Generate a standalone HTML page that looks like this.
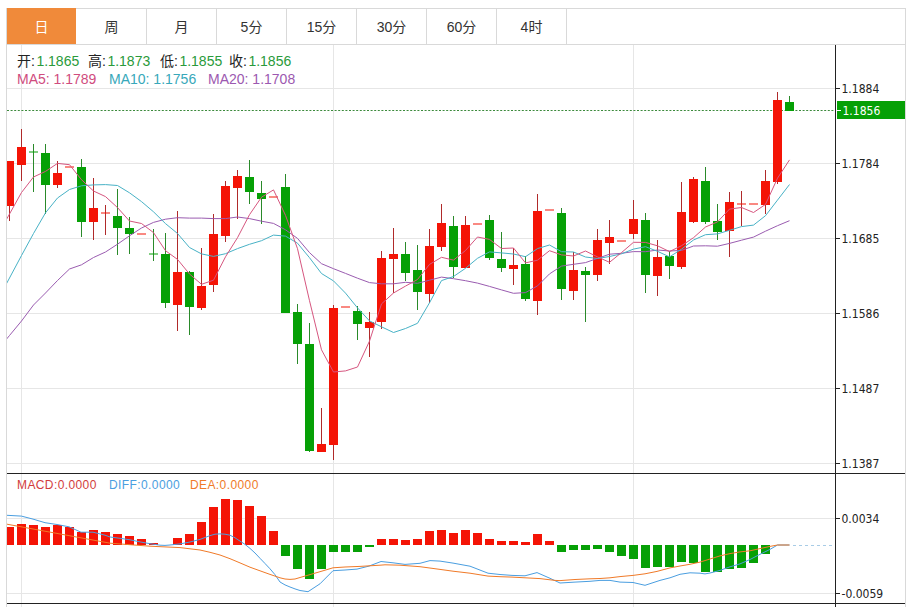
<!DOCTYPE html>
<html><head><meta charset="utf-8"><style>
*{margin:0;padding:0;box-sizing:border-box}
html,body{width:914px;height:607px;overflow:hidden;background:#fff}
body{position:relative;font-family:"Liberation Sans","Noto Sans CJK SC",sans-serif}
.frame{position:absolute;left:6px;top:8px;width:900px;height:599px;border-left:1px solid #d9d9d9;border-right:1px solid #d9d9d9;border-top:1px solid #d9d9d9}
.tabbar{position:absolute;left:7px;top:44px;width:898px;height:1px;background:#d9d9d9}
.tab{position:absolute;top:8px;width:70px;height:36px;border-right:1px solid #d9d9d9;text-align:center;line-height:36px;padding-top:1px;font-size:14px;color:#333}
.tab.on{background:#f08a3a;color:#fff;border-right:none;width:69px}
.lg{position:absolute;font-size:14px;white-space:pre;line-height:18px}
.ax{position:absolute;font-size:12px;line-height:16px;color:#222;font-family:"DejaVu Sans","Liberation Sans",sans-serif;font-stretch:condensed}
.ml{position:absolute;top:477px;font-size:12px;line-height:16px;white-space:pre;letter-spacing:0.4px}
svg{position:absolute;left:0;top:0}
</style></head><body>
<div class="frame"></div>
<div class="tabbar"></div>
<div class="tab on" style="left:7px">日</div><div class="tab" style="left:77px">周</div><div class="tab" style="left:147px">月</div><div class="tab" style="left:217px">5分</div><div class="tab" style="left:287px">15分</div><div class="tab" style="left:357px">30分</div><div class="tab" style="left:427px">60分</div><div class="tab" style="left:497px">4时</div>
<svg width="914" height="607" viewBox="0 0 914 607"><defs><clipPath id="cp"><rect shape-rendering="crispEdges" x="7" y="45" width="828" height="558"/></clipPath></defs>
<rect shape-rendering="crispEdges" x="7" y="88" width="828" height="1" fill="#e6e6e6"/><rect shape-rendering="crispEdges" x="7" y="163" width="828" height="1" fill="#e6e6e6"/><rect shape-rendering="crispEdges" x="7" y="238" width="828" height="1" fill="#e6e6e6"/><rect shape-rendering="crispEdges" x="7" y="313" width="828" height="1" fill="#e6e6e6"/><rect shape-rendering="crispEdges" x="7" y="388" width="828" height="1" fill="#e6e6e6"/><rect shape-rendering="crispEdges" x="7" y="463" width="828" height="1" fill="#e6e6e6"/><rect shape-rendering="crispEdges" x="7" y="518" width="828" height="1" fill="#e6e6e6"/><rect shape-rendering="crispEdges" x="7" y="593" width="828" height="1" fill="#e6e6e6"/><rect shape-rendering="crispEdges" x="21" y="45" width="1" height="562" fill="#e6e6e6"/><rect shape-rendering="crispEdges" x="333" y="45" width="1" height="562" fill="#e6e6e6"/><rect shape-rendering="crispEdges" x="633" y="45" width="1" height="562" fill="#e6e6e6"/><line x1="7" y1="110.5" x2="835" y2="110.5" stroke="#3c8a3c" stroke-width="1" stroke-dasharray="2,1.6"/><g clip-path="url(#cp)"><rect shape-rendering="crispEdges" x="9" y="161.0" width="1" height="60.0" fill="#b02a2a"/><rect shape-rendering="crispEdges" x="5" y="161.0" width="9" height="45.0" fill="#f41406"/><rect shape-rendering="crispEdges" x="21" y="129.0" width="1" height="51.5" fill="#b02a2a"/><rect shape-rendering="crispEdges" x="17" y="147.0" width="9" height="17.5" fill="#f41406"/><rect shape-rendering="crispEdges" x="33" y="144.0" width="1" height="47.5" fill="#2a8a2a"/><rect x="29" y="151.5" width="9" height="1" fill="#06a006"/><rect shape-rendering="crispEdges" x="45" y="144.0" width="1" height="70.0" fill="#2a8a2a"/><rect shape-rendering="crispEdges" x="41" y="152.6" width="9" height="32.0" fill="#06a006"/><rect shape-rendering="crispEdges" x="57" y="161.0" width="1" height="27.2" fill="#b02a2a"/><rect shape-rendering="crispEdges" x="53" y="173.0" width="9" height="12.2" fill="#f41406"/><rect x="65" y="166.5" width="9" height="1" fill="#f41406"/><rect shape-rendering="crispEdges" x="81" y="159.0" width="1" height="77.6" fill="#2a8a2a"/><rect shape-rendering="crispEdges" x="77" y="167.0" width="9" height="54.8" fill="#06a006"/><rect shape-rendering="crispEdges" x="93" y="177.6" width="1" height="62.0" fill="#b02a2a"/><rect shape-rendering="crispEdges" x="89" y="208.2" width="9" height="13.6" fill="#f41406"/><rect shape-rendering="crispEdges" x="105" y="205.2" width="1" height="29.6" fill="#b02a2a"/><rect x="101" y="212.5" width="9" height="1" fill="#f41406"/><rect shape-rendering="crispEdges" x="117" y="189.4" width="1" height="65.6" fill="#2a8a2a"/><rect shape-rendering="crispEdges" x="113" y="215.8" width="9" height="12.1" fill="#06a006"/><rect shape-rendering="crispEdges" x="129" y="216.8" width="1" height="37.2" fill="#2a8a2a"/><rect shape-rendering="crispEdges" x="125" y="227.7" width="9" height="6.5" fill="#06a006"/><rect x="137" y="233.5" width="9" height="1" fill="#f41406"/><rect shape-rendering="crispEdges" x="153" y="228.7" width="1" height="32.6" fill="#2a8a2a"/><rect x="149" y="253.5" width="9" height="1" fill="#06a006"/><rect shape-rendering="crispEdges" x="165" y="232.8" width="1" height="75.1" fill="#2a8a2a"/><rect shape-rendering="crispEdges" x="161" y="254.4" width="9" height="48.4" fill="#06a006"/><rect shape-rendering="crispEdges" x="177" y="210.9" width="1" height="119.6" fill="#b02a2a"/><rect shape-rendering="crispEdges" x="173" y="271.7" width="9" height="32.9" fill="#f41406"/><rect shape-rendering="crispEdges" x="189" y="270.8" width="1" height="63.9" fill="#2a8a2a"/><rect shape-rendering="crispEdges" x="185" y="272.2" width="9" height="34.8" fill="#06a006"/><rect shape-rendering="crispEdges" x="201" y="248.1" width="1" height="61.6" fill="#b02a2a"/><rect shape-rendering="crispEdges" x="197" y="285.8" width="9" height="21.7" fill="#f41406"/><rect shape-rendering="crispEdges" x="213" y="213.8" width="1" height="77.8" fill="#b02a2a"/><rect shape-rendering="crispEdges" x="209" y="233.6" width="9" height="51.3" fill="#f41406"/><rect shape-rendering="crispEdges" x="225" y="181.2" width="1" height="61.2" fill="#b02a2a"/><rect shape-rendering="crispEdges" x="221" y="185.9" width="9" height="50.1" fill="#f41406"/><rect shape-rendering="crispEdges" x="237" y="169.9" width="1" height="48.6" fill="#b02a2a"/><rect shape-rendering="crispEdges" x="233" y="176.3" width="9" height="11.4" fill="#f41406"/><rect shape-rendering="crispEdges" x="249" y="160.0" width="1" height="43.8" fill="#2a8a2a"/><rect shape-rendering="crispEdges" x="245" y="176.8" width="9" height="14.9" fill="#06a006"/><rect shape-rendering="crispEdges" x="261" y="181.2" width="1" height="43.1" fill="#2a8a2a"/><rect shape-rendering="crispEdges" x="257" y="192.9" width="9" height="5.7" fill="#06a006"/><rect x="269" y="196.5" width="9" height="1" fill="#f41406"/><rect shape-rendering="crispEdges" x="285" y="173.6" width="1" height="139.2" fill="#2a8a2a"/><rect shape-rendering="crispEdges" x="281" y="187.1" width="9" height="125.7" fill="#06a006"/><rect shape-rendering="crispEdges" x="297" y="303.8" width="1" height="59.8" fill="#2a8a2a"/><rect shape-rendering="crispEdges" x="293" y="312.1" width="9" height="31.4" fill="#06a006"/><rect shape-rendering="crispEdges" x="309" y="323.3" width="1" height="128.2" fill="#2a8a2a"/><rect shape-rendering="crispEdges" x="305" y="343.9" width="9" height="107.4" fill="#06a006"/><rect shape-rendering="crispEdges" x="321" y="408.1" width="1" height="43.7" fill="#b02a2a"/><rect shape-rendering="crispEdges" x="317" y="444.3" width="9" height="7.5" fill="#f41406"/><rect shape-rendering="crispEdges" x="333" y="305.2" width="1" height="154.7" fill="#b02a2a"/><rect shape-rendering="crispEdges" x="329" y="307.9" width="9" height="136.6" fill="#f41406"/><rect x="341" y="306.5" width="9" height="1" fill="#f41406"/><rect shape-rendering="crispEdges" x="357" y="305.8" width="1" height="34.4" fill="#2a8a2a"/><rect shape-rendering="crispEdges" x="353" y="311.4" width="9" height="12.9" fill="#06a006"/><rect shape-rendering="crispEdges" x="369" y="312.0" width="1" height="45.0" fill="#b02a2a"/><rect shape-rendering="crispEdges" x="365" y="321.6" width="9" height="5.9" fill="#f41406"/><rect shape-rendering="crispEdges" x="381" y="250.7" width="1" height="78.3" fill="#b02a2a"/><rect shape-rendering="crispEdges" x="377" y="258.1" width="9" height="64.0" fill="#f41406"/><rect shape-rendering="crispEdges" x="393" y="227.6" width="1" height="65.7" fill="#b02a2a"/><rect shape-rendering="crispEdges" x="389" y="253.7" width="9" height="5.1" fill="#f41406"/><rect shape-rendering="crispEdges" x="405" y="242.2" width="1" height="38.4" fill="#2a8a2a"/><rect shape-rendering="crispEdges" x="401" y="253.7" width="9" height="18.9" fill="#06a006"/><rect shape-rendering="crispEdges" x="417" y="245.4" width="1" height="64.7" fill="#2a8a2a"/><rect shape-rendering="crispEdges" x="413" y="269.8" width="9" height="21.9" fill="#06a006"/><rect shape-rendering="crispEdges" x="429" y="228.8" width="1" height="74.4" fill="#b02a2a"/><rect shape-rendering="crispEdges" x="425" y="246.1" width="9" height="47.7" fill="#f41406"/><rect shape-rendering="crispEdges" x="441" y="203.5" width="1" height="47.2" fill="#b02a2a"/><rect shape-rendering="crispEdges" x="437" y="222.6" width="9" height="24.7" fill="#f41406"/><rect shape-rendering="crispEdges" x="453" y="215.7" width="1" height="62.1" fill="#2a8a2a"/><rect shape-rendering="crispEdges" x="449" y="226.0" width="9" height="41.3" fill="#06a006"/><rect shape-rendering="crispEdges" x="465" y="215.7" width="1" height="51.8" fill="#b02a2a"/><rect shape-rendering="crispEdges" x="461" y="224.9" width="9" height="42.6" fill="#f41406"/><rect x="473" y="223.5" width="9" height="1" fill="#f41406"/><rect shape-rendering="crispEdges" x="489" y="215.3" width="1" height="44.9" fill="#2a8a2a"/><rect shape-rendering="crispEdges" x="485" y="220.0" width="9" height="37.7" fill="#06a006"/><rect shape-rendering="crispEdges" x="501" y="232.2" width="1" height="40.2" fill="#2a8a2a"/><rect shape-rendering="crispEdges" x="497" y="258.5" width="9" height="9.7" fill="#06a006"/><rect shape-rendering="crispEdges" x="513" y="247.8" width="1" height="37.5" fill="#b02a2a"/><rect shape-rendering="crispEdges" x="509" y="265.0" width="9" height="4.2" fill="#f41406"/><rect shape-rendering="crispEdges" x="525" y="256.0" width="1" height="45.3" fill="#2a8a2a"/><rect shape-rendering="crispEdges" x="521" y="263.9" width="9" height="35.3" fill="#06a006"/><rect shape-rendering="crispEdges" x="537" y="194.0" width="1" height="121.3" fill="#b02a2a"/><rect shape-rendering="crispEdges" x="533" y="210.7" width="9" height="90.4" fill="#f41406"/><rect x="545" y="209.5" width="9" height="1" fill="#f41406"/><rect shape-rendering="crispEdges" x="561" y="207.8" width="1" height="92.6" fill="#2a8a2a"/><rect shape-rendering="crispEdges" x="557" y="212.6" width="9" height="76.6" fill="#06a006"/><rect shape-rendering="crispEdges" x="573" y="252.4" width="1" height="48.0" fill="#b02a2a"/><rect shape-rendering="crispEdges" x="569" y="270.4" width="9" height="20.5" fill="#f41406"/><rect shape-rendering="crispEdges" x="585" y="266.7" width="1" height="55.7" fill="#2a8a2a"/><rect shape-rendering="crispEdges" x="581" y="270.5" width="9" height="4.0" fill="#06a006"/><rect shape-rendering="crispEdges" x="597" y="228.8" width="1" height="51.9" fill="#b02a2a"/><rect shape-rendering="crispEdges" x="593" y="240.0" width="9" height="34.7" fill="#f41406"/><rect shape-rendering="crispEdges" x="609" y="220.3" width="1" height="43.7" fill="#b02a2a"/><rect shape-rendering="crispEdges" x="605" y="237.2" width="9" height="5.5" fill="#f41406"/><rect x="617" y="240.5" width="9" height="1" fill="#f41406"/><rect shape-rendering="crispEdges" x="633" y="199.6" width="1" height="39.2" fill="#b02a2a"/><rect shape-rendering="crispEdges" x="629" y="218.8" width="9" height="14.9" fill="#f41406"/><rect shape-rendering="crispEdges" x="645" y="213.0" width="1" height="80.2" fill="#2a8a2a"/><rect shape-rendering="crispEdges" x="641" y="219.9" width="9" height="55.3" fill="#06a006"/><rect shape-rendering="crispEdges" x="657" y="240.2" width="1" height="55.8" fill="#b02a2a"/><rect shape-rendering="crispEdges" x="653" y="256.8" width="9" height="18.9" fill="#f41406"/><rect shape-rendering="crispEdges" x="669" y="251.0" width="1" height="28.4" fill="#2a8a2a"/><rect shape-rendering="crispEdges" x="665" y="256.3" width="9" height="9.7" fill="#06a006"/><rect shape-rendering="crispEdges" x="681" y="181.9" width="1" height="87.5" fill="#b02a2a"/><rect shape-rendering="crispEdges" x="677" y="211.8" width="9" height="54.7" fill="#f41406"/><rect shape-rendering="crispEdges" x="693" y="177.3" width="1" height="46.1" fill="#b02a2a"/><rect shape-rendering="crispEdges" x="689" y="178.9" width="9" height="42.8" fill="#f41406"/><rect shape-rendering="crispEdges" x="705" y="166.7" width="1" height="56.9" fill="#2a8a2a"/><rect shape-rendering="crispEdges" x="701" y="180.5" width="9" height="41.0" fill="#06a006"/><rect shape-rendering="crispEdges" x="717" y="204.4" width="1" height="35.6" fill="#2a8a2a"/><rect shape-rendering="crispEdges" x="713" y="221.2" width="9" height="10.3" fill="#06a006"/><rect shape-rendering="crispEdges" x="729" y="192.1" width="1" height="65.3" fill="#b02a2a"/><rect shape-rendering="crispEdges" x="725" y="201.8" width="9" height="29.3" fill="#f41406"/><rect shape-rendering="crispEdges" x="741" y="191.1" width="1" height="35.0" fill="#b02a2a"/><rect x="737" y="203.5" width="9" height="1" fill="#f41406"/><rect x="749" y="203.5" width="9" height="1" fill="#f41406"/><rect shape-rendering="crispEdges" x="765" y="170.4" width="1" height="43.9" fill="#b02a2a"/><rect shape-rendering="crispEdges" x="761" y="181.0" width="9" height="24.0" fill="#f41406"/><rect shape-rendering="crispEdges" x="777" y="92.3" width="1" height="91.3" fill="#b02a2a"/><rect shape-rendering="crispEdges" x="773" y="100.4" width="9" height="81.3" fill="#f41406"/><rect shape-rendering="crispEdges" x="789" y="95.8" width="1" height="14.8" fill="#2a8a2a"/><rect shape-rendering="crispEdges" x="785" y="101.7" width="9" height="8.9" fill="#06a006"/><polyline points="-2.5,350.0 9.5,335.5 21.5,321.0 33.5,305.0 45.5,293.0 57.5,280.5 69.5,269.0 81.5,264.8 93.5,257.5 105.5,252.0 117.5,244.2 129.5,235.8 141.5,228.0 153.5,222.4 165.5,219.2 177.5,217.7 189.5,218.1 201.5,218.1 213.5,218.6 225.5,218.6 237.5,217.0 249.5,218.6 261.5,221.2 273.5,223.4 285.5,229.8 297.5,238.4 309.5,252.6 321.5,263.7 333.5,268.7 345.5,273.4 357.5,278.2 369.5,282.6 381.5,283.8 393.5,283.8 405.5,282.3 417.5,283.3 429.5,280.2 441.5,277.1 453.5,278.7 465.5,280.7 477.5,283.1 489.5,286.4 501.5,289.9 513.5,293.3 525.5,292.6 537.5,285.9 549.5,273.9 561.5,266.1 573.5,264.3 585.5,262.6 597.5,258.4 609.5,254.2 621.5,253.3 633.5,251.6 645.5,251.7 657.5,250.0 669.5,251.0 681.5,250.4 693.5,246.0 705.5,245.8 717.5,246.2 729.5,243.4 741.5,240.2 753.5,237.1 765.5,231.2 777.5,225.7 789.5,220.7" fill="none" stroke="#9a5cb0" stroke-width="1" stroke-linejoin="round"/><polyline points="-2.5,300.5 9.5,278.0 21.5,255.5 33.5,233.5 45.5,212.8 57.5,198.0 69.5,189.5 81.5,185.8 93.5,184.9 105.5,184.6 117.5,185.5 129.5,192.8 141.5,201.6 153.5,211.8 165.5,223.6 177.5,233.5 189.5,247.5 201.5,253.9 213.5,256.4 225.5,253.7 237.5,248.6 249.5,244.3 261.5,240.7 273.5,235.1 285.5,236.1 297.5,243.2 309.5,257.7 321.5,273.5 333.5,280.9 345.5,293.1 357.5,307.9 369.5,320.9 381.5,326.8 393.5,332.5 405.5,328.5 417.5,323.3 429.5,302.8 441.5,280.6 453.5,276.5 465.5,268.3 477.5,258.3 489.5,251.9 501.5,252.9 513.5,254.0 525.5,256.7 537.5,248.6 549.5,245.0 561.5,251.7 573.5,252.0 585.5,257.0 597.5,258.5 609.5,256.5 621.5,253.8 633.5,249.1 645.5,246.7 657.5,251.3 669.5,256.9 681.5,249.2 693.5,240.0 705.5,234.7 717.5,233.9 729.5,230.3 741.5,226.6 753.5,225.1 765.5,215.7 777.5,200.1 789.5,184.5" fill="none" stroke="#48b2c6" stroke-width="1" stroke-linejoin="round"/><polyline points="-2.5,235.5 9.5,214.0 21.5,192.5 33.5,177.0 45.5,171.4 57.5,163.4 69.5,164.7 81.5,179.7 93.5,191.0 105.5,196.6 117.5,207.6 129.5,221.0 141.5,223.5 153.5,232.6 165.5,250.7 177.5,259.4 189.5,274.0 201.5,284.3 213.5,280.2 225.5,256.8 237.5,237.7 249.5,214.7 261.5,197.2 273.5,189.9 285.5,215.3 297.5,248.7 309.5,300.7 321.5,349.8 333.5,372.0 345.5,370.9 357.5,367.0 369.5,341.1 381.5,303.9 393.5,293.0 405.5,286.1 417.5,279.5 429.5,264.4 441.5,257.3 453.5,260.1 465.5,250.5 477.5,237.0 489.5,239.4 501.5,248.5 513.5,248.0 525.5,262.9 537.5,260.2 549.5,250.7 561.5,254.9 573.5,256.0 585.5,251.0 597.5,256.9 609.5,262.3 621.5,252.6 633.5,242.3 645.5,242.4 657.5,245.8 669.5,251.6 681.5,245.7 693.5,237.7 705.5,227.0 717.5,221.9 729.5,209.1 741.5,207.5 753.5,212.5 765.5,204.4 777.5,178.2 789.5,159.9" fill="none" stroke="#d6567f" stroke-width="1" stroke-linejoin="round"/><rect shape-rendering="crispEdges" x="5" y="527.1" width="9" height="17.9" fill="#f41406"/><rect shape-rendering="crispEdges" x="17" y="524.2" width="9" height="20.8" fill="#f41406"/><rect shape-rendering="crispEdges" x="29" y="525.0" width="9" height="20.0" fill="#f41406"/><rect shape-rendering="crispEdges" x="41" y="527.1" width="9" height="17.9" fill="#f41406"/><rect shape-rendering="crispEdges" x="53" y="525.0" width="9" height="20.0" fill="#f41406"/><rect shape-rendering="crispEdges" x="65" y="526.8" width="9" height="18.2" fill="#f41406"/><rect shape-rendering="crispEdges" x="77" y="532.2" width="9" height="12.8" fill="#f41406"/><rect shape-rendering="crispEdges" x="89" y="530.2" width="9" height="14.8" fill="#f41406"/><rect shape-rendering="crispEdges" x="101" y="531.8" width="9" height="13.2" fill="#f41406"/><rect shape-rendering="crispEdges" x="113" y="534.3" width="9" height="10.7" fill="#f41406"/><rect shape-rendering="crispEdges" x="125" y="536.1" width="9" height="8.9" fill="#f41406"/><rect shape-rendering="crispEdges" x="137" y="538.5" width="9" height="6.5" fill="#f41406"/><rect shape-rendering="crispEdges" x="149" y="542.7" width="9" height="2.3" fill="#f41406"/><rect shape-rendering="crispEdges" x="173" y="538.1" width="9" height="6.9" fill="#f41406"/><rect shape-rendering="crispEdges" x="185" y="534.2" width="9" height="10.8" fill="#f41406"/><rect shape-rendering="crispEdges" x="197" y="521.8" width="9" height="23.2" fill="#f41406"/><rect shape-rendering="crispEdges" x="209" y="507.2" width="9" height="37.8" fill="#f41406"/><rect shape-rendering="crispEdges" x="221" y="498.9" width="9" height="46.1" fill="#f41406"/><rect shape-rendering="crispEdges" x="233" y="499.8" width="9" height="45.2" fill="#f41406"/><rect shape-rendering="crispEdges" x="245" y="505.7" width="9" height="39.3" fill="#f41406"/><rect shape-rendering="crispEdges" x="257" y="515.6" width="9" height="29.4" fill="#f41406"/><rect shape-rendering="crispEdges" x="269" y="531.1" width="9" height="13.9" fill="#f41406"/><rect shape-rendering="crispEdges" x="281" y="545" width="9" height="10.7" fill="#06a006"/><rect shape-rendering="crispEdges" x="293" y="545" width="9" height="23.5" fill="#06a006"/><rect shape-rendering="crispEdges" x="305" y="545" width="9" height="34.1" fill="#06a006"/><rect shape-rendering="crispEdges" x="317" y="545" width="9" height="24.1" fill="#06a006"/><rect shape-rendering="crispEdges" x="329" y="545" width="9" height="6.7" fill="#06a006"/><rect shape-rendering="crispEdges" x="341" y="545" width="9" height="6.9" fill="#06a006"/><rect shape-rendering="crispEdges" x="353" y="545" width="9" height="6.9" fill="#06a006"/><rect shape-rendering="crispEdges" x="365" y="545" width="9" height="1.7" fill="#06a006"/><rect shape-rendering="crispEdges" x="377" y="538.7" width="9" height="6.3" fill="#f41406"/><rect shape-rendering="crispEdges" x="389" y="539.2" width="9" height="5.8" fill="#f41406"/><rect shape-rendering="crispEdges" x="401" y="540.4" width="9" height="4.6" fill="#f41406"/><rect shape-rendering="crispEdges" x="413" y="538.5" width="9" height="6.5" fill="#f41406"/><rect shape-rendering="crispEdges" x="425" y="531.1" width="9" height="13.9" fill="#f41406"/><rect shape-rendering="crispEdges" x="437" y="530.0" width="9" height="15.0" fill="#f41406"/><rect shape-rendering="crispEdges" x="449" y="533.2" width="9" height="11.8" fill="#f41406"/><rect shape-rendering="crispEdges" x="461" y="529.5" width="9" height="15.5" fill="#f41406"/><rect shape-rendering="crispEdges" x="473" y="533.1" width="9" height="11.9" fill="#f41406"/><rect shape-rendering="crispEdges" x="485" y="538.9" width="9" height="6.1" fill="#f41406"/><rect shape-rendering="crispEdges" x="497" y="541.0" width="9" height="4.0" fill="#f41406"/><rect shape-rendering="crispEdges" x="509" y="541.1" width="9" height="3.9" fill="#f41406"/><rect shape-rendering="crispEdges" x="521" y="541.7" width="9" height="3.3" fill="#f41406"/><rect shape-rendering="crispEdges" x="533" y="534.1" width="9" height="10.9" fill="#f41406"/><rect shape-rendering="crispEdges" x="545" y="541.1" width="9" height="3.9" fill="#f41406"/><rect shape-rendering="crispEdges" x="557" y="545" width="9" height="6.7" fill="#06a006"/><rect shape-rendering="crispEdges" x="569" y="545" width="9" height="5.1" fill="#06a006"/><rect shape-rendering="crispEdges" x="581" y="545" width="9" height="5.1" fill="#06a006"/><rect shape-rendering="crispEdges" x="593" y="545" width="9" height="3.6" fill="#06a006"/><rect shape-rendering="crispEdges" x="605" y="545" width="9" height="6.7" fill="#06a006"/><rect shape-rendering="crispEdges" x="617" y="545" width="9" height="10.6" fill="#06a006"/><rect shape-rendering="crispEdges" x="629" y="545" width="9" height="14.3" fill="#06a006"/><rect shape-rendering="crispEdges" x="641" y="545" width="9" height="22.8" fill="#06a006"/><rect shape-rendering="crispEdges" x="653" y="545" width="9" height="21.8" fill="#06a006"/><rect shape-rendering="crispEdges" x="665" y="545" width="9" height="21.6" fill="#06a006"/><rect shape-rendering="crispEdges" x="677" y="545" width="9" height="16.6" fill="#06a006"/><rect shape-rendering="crispEdges" x="689" y="545" width="9" height="18.4" fill="#06a006"/><rect shape-rendering="crispEdges" x="701" y="545" width="9" height="26.7" fill="#06a006"/><rect shape-rendering="crispEdges" x="713" y="545" width="9" height="27.2" fill="#06a006"/><rect shape-rendering="crispEdges" x="725" y="545" width="9" height="23.6" fill="#06a006"/><rect shape-rendering="crispEdges" x="737" y="545" width="9" height="22.8" fill="#06a006"/><rect shape-rendering="crispEdges" x="749" y="545" width="9" height="18.0" fill="#06a006"/><rect shape-rendering="crispEdges" x="761" y="545" width="9" height="8.7" fill="#06a006"/><polyline points="-3.0,515.0 7.0,515.3 21.4,516.1 33.0,519.1 45.0,522.7 57.0,524.5 69.0,526.8 81.0,532.2 93.0,532.2 105.0,535.2 110.0,537.0 120.0,538.3 130.0,539.8 140.0,541.9 150.0,543.7 160.0,545.2 165.0,545.4 170.0,545.0 180.0,543.9 190.0,542.0 200.0,539.4 210.0,535.6 215.0,534.2 220.0,533.9 225.0,534.2 230.0,535.2 235.0,537.8 240.0,541.1 245.0,544.4 250.0,548.4 255.0,553.0 260.0,558.3 265.0,563.5 270.0,568.8 275.0,574.7 280.0,582.0 285.0,584.9 290.0,587.0 295.0,588.9 300.0,590.5 308.0,591.7 320.0,583.8 333.0,570.7 345.0,570.0 357.0,569.1 369.0,566.1 381.0,561.5 393.0,562.8 405.0,564.4 420.0,563.3 430.0,560.6 440.0,561.1 453.0,563.1 465.0,565.3 470.0,566.2 488.0,573.2 500.0,574.5 512.0,575.4 525.0,575.8 537.0,572.6 550.0,578.3 560.0,583.0 575.0,582.1 590.0,581.3 600.0,580.4 610.0,580.4 620.0,582.1 633.0,582.5 645.0,585.3 660.0,580.4 670.0,577.8 680.0,574.3 690.0,572.8 700.0,573.2 705.0,573.9 710.0,573.0 720.0,570.4 730.0,566.8 740.0,563.9 750.0,559.5 760.0,554.3 770.0,549.4 777.5,545.0 789.5,545.0" fill="none" stroke="#4a9ee0" stroke-width="1" stroke-linejoin="round"/><polyline points="-3.0,522.3 7.0,524.2 110.0,543.2 130.0,544.7 150.0,546.2 165.0,546.9 180.0,547.6 190.0,548.8 200.0,550.0 210.0,552.3 220.0,555.0 230.0,558.7 240.0,562.9 250.0,567.2 260.0,570.8 270.0,574.4 280.0,577.8 285.0,579.0 290.0,579.4 295.0,579.0 300.0,577.5 310.0,574.6 320.0,571.7 333.0,567.8 345.0,567.0 360.0,566.4 380.0,565.2 385.0,564.8 400.0,565.2 420.0,566.7 440.0,569.4 453.0,571.2 470.0,573.2 488.0,576.1 500.0,576.7 512.0,577.1 525.0,577.8 540.0,578.6 555.0,580.4 560.0,580.6 575.0,579.5 590.0,578.8 600.0,578.5 610.0,577.8 620.0,576.6 633.0,575.4 645.0,573.8 657.0,571.4 670.0,567.9 680.0,566.0 690.0,564.3 700.0,562.1 710.0,559.0 720.0,555.9 730.0,553.6 740.0,551.9 750.0,550.8 760.0,548.6 770.0,546.4 777.5,545.0 789.5,545.0" fill="none" stroke="#f07a28" stroke-width="1" stroke-linejoin="round"/></g><line x1="793" y1="545.5" x2="835" y2="545.5" stroke="#a8cce6" stroke-width="1" stroke-dasharray="3,3"/><rect shape-rendering="crispEdges" x="835" y="45" width="1" height="562" fill="#222"/><rect shape-rendering="crispEdges" x="7" y="473" width="898" height="1" fill="#222"/><rect shape-rendering="crispEdges" x="7" y="603" width="898" height="1" fill="#222"/><rect shape-rendering="crispEdges" x="836" y="88" width="4" height="1" fill="#222"/><rect shape-rendering="crispEdges" x="836" y="163" width="4" height="1" fill="#222"/><rect shape-rendering="crispEdges" x="836" y="238" width="4" height="1" fill="#222"/><rect shape-rendering="crispEdges" x="836" y="313" width="4" height="1" fill="#222"/><rect shape-rendering="crispEdges" x="836" y="388" width="4" height="1" fill="#222"/><rect shape-rendering="crispEdges" x="836" y="463" width="4" height="1" fill="#222"/><rect shape-rendering="crispEdges" x="836" y="518" width="4" height="1" fill="#222"/><rect shape-rendering="crispEdges" x="836" y="593" width="4" height="1" fill="#222"/><rect shape-rendering="crispEdges" x="837" y="101" width="68" height="18" fill="#06a006"/><rect shape-rendering="crispEdges" x="837" y="110" width="4" height="1" fill="#fff"/>
</svg>
<div class="lg" style="top:52px;left:17px"><span style="color:#222">开:</span><span style="color:#2a9a3a;margin-left:1.5px">1.1865</span></div>
<div class="lg" style="top:52px;left:88px"><span style="color:#222">高:</span><span style="color:#2a9a3a;margin-left:1.5px">1.1873</span></div>
<div class="lg" style="top:52px;left:160px"><span style="color:#222">低:</span><span style="color:#2a9a3a;margin-left:1.5px">1.1855</span></div>
<div class="lg" style="top:52px;left:229px"><span style="color:#222">收:</span><span style="color:#2a9a3a;margin-left:1.5px">1.1856</span></div>
<div class="lg" style="top:70px;left:17px;color:#d04c7e">MA5: 1.1789</div>
<div class="lg" style="top:70px;left:109px;color:#38a8ba">MA10: 1.1756</div>
<div class="lg" style="top:70px;left:208px;color:#9c58b0">MA20: 1.1708</div>
<div class="ml" style="left:17px;color:#d23c3c">MACD:0.0000</div>
<div class="ml" style="left:109px;color:#4a9ee0">DIFF:0.0000</div>
<div class="ml" style="left:190px;color:#f07a28">DEA:0.0000</div>
<div class="ax" style="top:81px;left:841.5px">1.1884</div><div class="ax" style="top:156px;left:841.5px">1.1784</div><div class="ax" style="top:231px;left:841.5px">1.1685</div><div class="ax" style="top:306px;left:841.5px">1.1586</div><div class="ax" style="top:381px;left:841.5px">1.1487</div><div class="ax" style="top:456px;left:841.5px">1.1387</div><div class="ax" style="top:511px;left:841.5px">0.0034</div><div class="ax" style="top:586px;left:841.5px">-0.0059</div><div class="ax" style="top:103px;left:842.5px;color:#fff">1.1856</div>
</body></html>
